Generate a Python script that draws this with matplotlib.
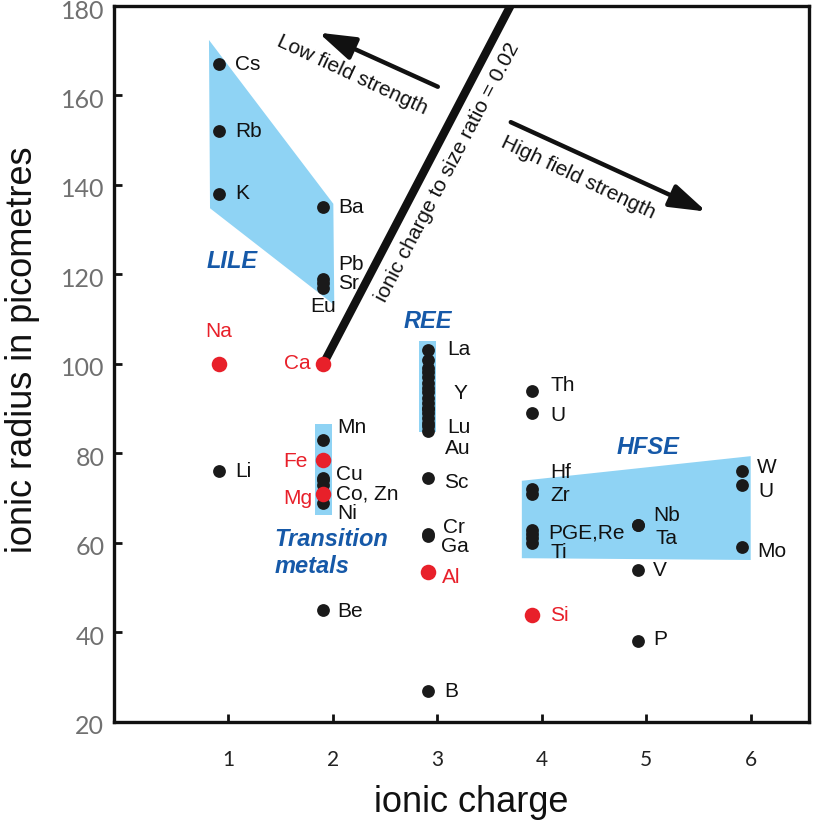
import numpy as np
import matplotlib.pyplot as plt
import matplotlib.transforms as mtransforms
from matplotlib.patches import Polygon, FancyArrowPatch

plt.rcParams['font.family'] = ['Liberation Sans', 'DejaVu Sans']

# posisi ion pada sumbu muatan (sedikit di kiri tick) dan jari-jari ion (pm)
ion_names = ['Cs', 'Rb', 'K', 'Na', 'Li',
             'Ba', 'Pb', 'Sr', 'Eu2', 'Ca', 'Mn', 'Fe', 'Co', 'Zn', 'Cu', 'Mg', 'Ni', 'Be',
             'La', 'Ce', 'Pr', 'Nd', 'Pm', 'Sm', 'Eu', 'Gd', 'Tb', 'Dy', 'Ho', 'Y', 'Er',
             'Tm', 'Yb', 'Lu', 'Au', 'Sc', 'Ga', 'Cr', 'Al', 'B',
             'Th', 'U4', 'Zr', 'Hf', 'Re', 'Ir', 'Pt', 'Ti', 'Si',
             'Nb', 'Ta', 'V', 'P',
             'W', 'U6', 'Mo']
ion_x = [0.91] * 5 + [1.91] * 13 + [2.91] * 22 + [3.91] * 9 + [4.92] * 4 + [5.92] * 3
ion_radius = [167, 152, 138, 100, 76,
              135, 119, 118, 117, 100, 83, 78.5, 74.5, 74, 73, 71, 69, 45,
              103.2, 101, 99, 98.3, 97, 95.8, 94.7, 93.8, 92.3, 91.2, 90.1, 90, 89,
              88, 86.8, 86.1, 85, 74.5, 62, 61.5, 53.5, 27,
              94, 89, 72, 71, 63, 62, 61, 60, 44,
              64, 64, 54, 38,
              76, 73, 59]
red_ions = ['Na', 'Ca', 'Fe', 'Mg', 'Al', 'Si']

# label: teks, ion acuan, geser x/y (piksel, y ke bawah), perataan
labels = [('Cs', 'Cs', 16, 0, 'left'), ('Rb', 'Rb', 16, 0, 'left'), ('K', 'K', 16, 0, 'left'),
          ('Na', 'Na', 0, -32, 'center'), ('Li', 'Li', 16, 0, 'left'),
          ('Ba', 'Ba', 15, 0, 'left'), ('Pb', 'Pb', 15, -14, 'left'), ('Sr', 'Sr', 15, 0, 'left'),
          ('Eu', 'Eu2', 0, 19, 'center'), ('Ca', 'Ca', -13, 0, 'right'),
          ('Mn', 'Mn', 14, -13, 'left'), ('Fe', 'Fe', -16, 1, 'right'), ('Cu', 'Cu', 13, -10, 'left'),
          ('Co, Zn', 'Co', 13, 16, 'left'), ('Mg', 'Mg', -11, 5, 'right'), ('Ni', 'Ni', 14, 11, 'left'),
          ('Be', 'Be', 14, 1, 'left'),
          ('La', 'La', 19, 0, 'left'), ('Y', 'Y', 26, -15, 'left'), ('Lu', 'Lu', 19, 1, 'left'),
          ('Au', 'Au', 17, 17, 'left'), ('Sc', 'Sc', 16, 4, 'left'), ('Cr', 'Cr', 15, -9, 'left'),
          ('Ga', 'Ga', 13, 12, 'left'), ('Al', 'Al', 14, 5, 'left'), ('B', 'B', 16, 1, 'left'),
          ('Th', 'Th', 18, -5, 'left'), ('U', 'U4', 18, 2, 'left'), ('Hf', 'Hf', 18, -21, 'left'),
          ('Zr', 'Zr', 18, 6, 'left'), ('PGE,Re', 'Ti', 16, -10, 'left'), ('Ti', 'Ti', 18, 10, 'left'),
          ('Si', 'Si', 18, 1, 'left'),
          ('Nb', 'Nb', 15, -10, 'left'), ('Ta', 'Ta', 18, 13, 'left'), ('V', 'V', 15, 1, 'left'),
          ('P', 'P', 15, -2, 'left'),
          ('W', 'W', 15, -4, 'left'), ('U', 'U6', 16, 7, 'left'), ('Mo', 'Mo', 15, 4, 'left')]

# bidang berwarna (kelompok unsur)
lile_x = [0.816, 2.006, 2.015, 0.826]
lile_y = [172.4, 135.8, 113.2, 134.8]
trans_x = [1.83, 1.99, 1.99, 1.83]
trans_y = [86.6, 86.6, 66.3, 66.3]
ree_x = [2.83, 2.99, 2.99, 2.83]
ree_y = [105.1, 105.1, 84.8, 84.8]
hfse_x = [3.81, 6.0, 6.0, 3.81]
hfse_y = [73.9, 79.4, 56.2, 56.6]

# garis rasio muatan/ukuran dan panah
ratio_x = [1.91, 3.70]
ratio_y = [100, 180]
low_arrow = [(3.03, 161.7), (1.84, 174.3)]
high_arrow = [(3.68, 154.3), (5.60, 133.8)]

x_ticks = [1, 2, 3, 4, 5, 6]
y_ticks = [20, 40, 60, 80, 100, 120, 140, 160, 180]

blue = '#8fd3f4'
red = '#e8202a'
navy = '#1659a8'

fig = plt.figure(figsize=(8.13, 8.22), dpi=100)
ax = fig.add_axes([0.1402, 0.1217, 0.8549, 0.8710])
ax.set_xlim(-0.093, 6.558)
ax.set_ylim(20, 180)

for fx, fy in [(lile_x, lile_y), (trans_x, trans_y), (ree_x, ree_y), (hfse_x, hfse_y)]:
    ax.add_patch(Polygon(np.column_stack([fx, fy]), closed=True, facecolor=blue,
                         edgecolor='none', zorder=1))

ax.plot(ratio_x, ratio_y, color='#111111', lw=6, solid_capstyle='butt', zorder=2)

is_red = np.array([n in red_ions for n in ion_names])
xs = np.array(ion_x)
ys = np.array(ion_radius)
ax.scatter(xs[~is_red], ys[~is_red], s=85, color='#1a1a1a', zorder=3, linewidths=0)
ax.scatter(xs[is_red], ys[is_red], s=125, color=red, zorder=4, linewidths=0)

pos = {n: (x, y) for n, x, y in zip(ion_names, ion_x, ion_radius)}
for text, ref, dx, dy, ha in labels:
    col = red if ref in red_ions else '#111111'
    ax.annotate(text, pos[ref], xytext=(dx, -dy), textcoords='offset pixels',
                ha=ha, va='center', fontsize=15, color=col, zorder=5)

# nama kelompok
group_kw = dict(fontsize=17, color=navy, fontweight='bold', fontstyle='italic', zorder=5)
ax.text(1.04, 122.8, 'LILE', ha='center', va='center', **group_kw)
ax.text(2.91, 109.4, 'REE', ha='center', va='center', **group_kw)
ax.text(5.02, 81.4, 'HFSE', ha='center', va='center', **group_kw)
ax.text(1.44, 57.8, 'Transition\nmetals', ha='left', va='center', linespacing=1.2, **group_kw)

# teks sepanjang garis
p0 = ax.transData.transform((ratio_x[0], ratio_y[0]))
p1 = ax.transData.transform((ratio_x[1], ratio_y[1]))
ang = np.degrees(np.arctan2(p1[1] - p0[1], p1[0] - p0[0]))
ax.text(3.10, 142.9, 'ionic charge to size ratio = 0.02', rotation=ang,
        rotation_mode='anchor', ha='center', va='center', fontsize=15, color='#111111')

for (tail, head) in [low_arrow, high_arrow]:
    ax.add_patch(FancyArrowPatch(tail, head, arrowstyle='-|>,head_length=1.4,head_width=0.45',
                                 mutation_scale=16, lw=3.2, color='#111111', zorder=3))
ax.text(2.19, 164.6, 'Low field strength', rotation=-25, ha='center', va='center',
        fontsize=15, color='#111111')
ax.text(4.35, 141.6, 'High field strength', rotation=-25.5, ha='center', va='center',
        fontsize=15, color='#111111')

# sumbu
ax.set_xticks(x_ticks)
ax.set_yticks(y_ticks)
for sp in ax.spines.values():
    sp.set_linewidth(2.4)
    sp.set_color('#111111')
ax.tick_params(direction='in', length=6, width=2, color='#111111', labelfontfamily='Lato')
ax.tick_params(axis='x', pad=20, labelsize=15, labelcolor='#222222')
ax.tick_params(axis='y', pad=7, labelsize=18, labelcolor='#707070')
shift = mtransforms.ScaledTranslation(0, -3 / 100, fig.dpi_scale_trans)
for lab in ax.get_yticklabels():
    lab.set_transform(lab.get_transform() + shift)

ax.set_xlabel('ionic charge', fontsize=26, color='#111111')
ax.set_ylabel('ionic radius in picometres', fontsize=26, color='#111111')
ax.xaxis.set_label_coords(0.514, -0.112)
ax.xaxis.label.set_va('center')
ax.yaxis.set_label_coords(-0.132, 0.52)
ax.yaxis.label.set_va('center')

fig.savefig('out.png', dpi=100)
